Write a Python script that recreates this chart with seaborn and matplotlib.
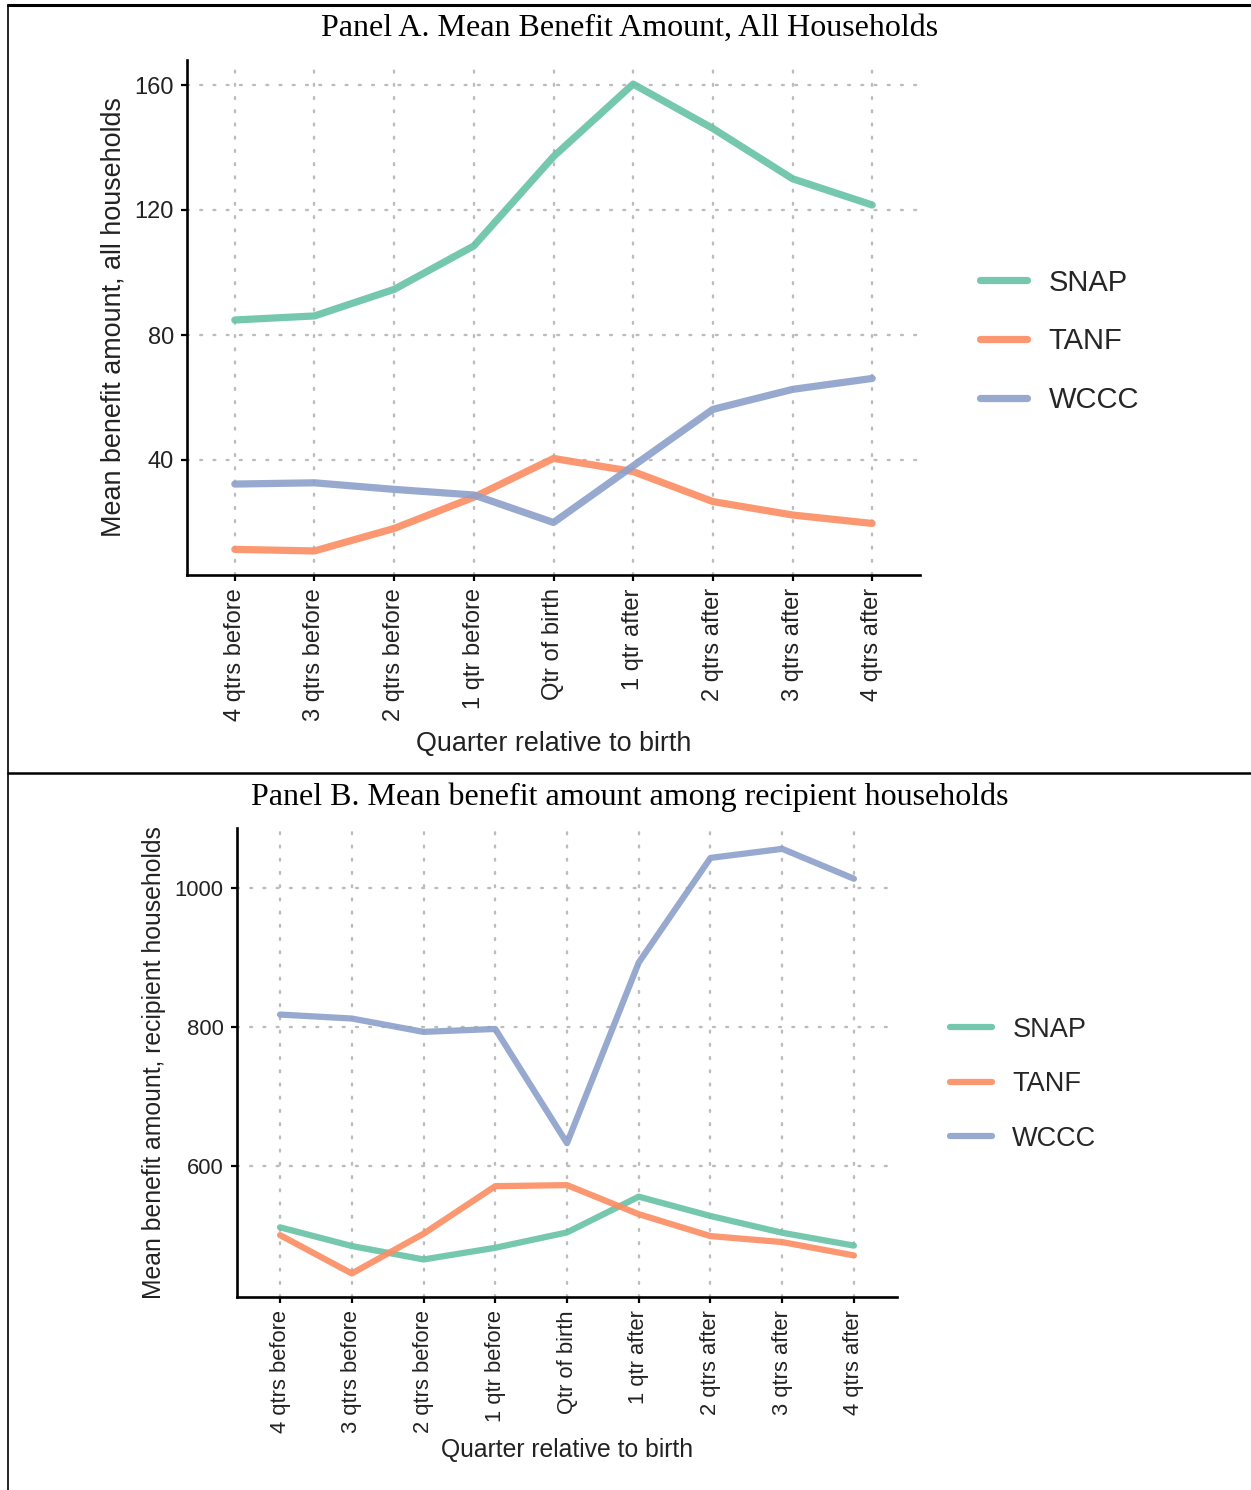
import matplotlib
matplotlib.use("Agg")
import matplotlib.pyplot as plt
from matplotlib.lines import Line2D
import seaborn as sns
import pandas as pd

quarters = ["4 qtrs before", "3 qtrs before", "2 qtrs before", "1 qtr before",
            "Qtr of birth", "1 qtr after", "2 qtrs after", "3 qtrs after", "4 qtrs after"]
programs = ["SNAP", "TANF", "WCCC"]

# Panel A: mean benefit amount, all households
snap_a = [84.8, 86.1, 94.6, 108.5, 137.1, 160.3, 146.1, 130.0, 121.6]
tanf_a = [11.4, 10.9, 18.1, 28.1, 40.5, 36.3, 26.7, 22.4, 19.7]
wccc_a = [32.3, 32.7, 30.6, 28.8, 20.0, 38.1, 56.2, 62.6, 66.1]

# Panel B: mean benefit amount among recipient households
snap_b = [511.7, 484.8, 465.5, 482.3, 504.4, 555.8, 528.0, 503.9, 485.4]
tanf_b = [500.5, 445.3, 502.5, 570.9, 572.4, 530.6, 499.1, 490.5, 471.3]
wccc_b = [817.7, 812.0, 792.8, 797.0, 632.7, 892.5, 1043.0, 1056.0, 1013.0]

yticks_a = [40, 80, 120, 160]
yticks_b = [600, 800, 1000]

title_a = "Panel A. Mean Benefit Amount, All Households"
title_b = "Panel B. Mean benefit amount among recipient households"
ylabel_a = "Mean benefit amount, all households"
ylabel_b = "Mean benefit amount, recipient households"
xlabel = "Quarter relative to birth"

colors = ["#66c2a5", "#fc8d62", "#8da0cb"]


def long_df(s, t, w):
    rows = []
    for prog, vals in zip(programs, [s, t, w]):
        for q, v in zip(quarters, vals):
            rows.append({"quarter": q, "program": prog, "value": v})
    return pd.DataFrame(rows)


sns.set_theme(style="white")
plt.rcParams["font.family"] = ["Liberation Sans", "DejaVu Sans"]

W, H = 1251, 1490
fig = plt.figure(figsize=(W / 100, H / 100), dpi=100)


def px_axes(l, r, t, b):
    return fig.add_axes([l / W, 1 - b / H, (r - l) / W, (b - t) / H])


def style_axes(ax, yticks, ylim, tick_fs, lab_fs, ylab, ylab_x, xlab_y):
    ax.set_xlim(-0.6, 8.6)
    ax.set_ylim(*ylim)
    ax.set_yticks(yticks)
    ax.set_xticks(range(len(quarters)))
    ax.set_xticklabels(quarters, rotation=90, fontsize=tick_fs, color="#222222")
    ax.tick_params(axis="y", labelsize=tick_fs, labelcolor="#222222")
    ax.tick_params(axis="both", direction="out", length=4.5, width=1.6,
                   color="black", pad=5, left=True, bottom=True)
    for side in ["top", "right"]:
        ax.spines[side].set_visible(False)
    for side in ["left", "bottom"]:
        ax.spines[side].set_color("black")
        ax.spines[side].set_linewidth(1.9)
    ax.grid(True, which="major", color="#bcbcbc", linewidth=1.7,
            linestyle=(0, (0.8, 4.8)), dash_capstyle="round")
    ax.set_axisbelow(True)
    ax.set_ylabel(ylab, fontsize=lab_fs, color="#222222")
    ax.set_xlabel(xlabel, fontsize=lab_fs, color="#222222")
    ax.yaxis.set_label_coords(ylab_x, 0.5)
    ax.xaxis.set_label_coords(0.5, xlab_y)


# ---- Panel A ----
axA = px_axes(187, 920, 60, 575)
dfA = long_df(snap_a, tanf_a, wccc_a)
sns.lineplot(data=dfA, x="quarter", y="value", hue="program", palette=colors,
             linewidth=5.2, alpha=0.9, sort=False, ax=axA)
style_axes(axA, yticks_a, (3.2, 168), 17, 19.4, ylabel_a, -0.082, -0.303)
legA = axA.legend(loc="center left", bbox_to_anchor=(1.082, 0.454), frameon=False,
                  fontsize=21, handlelength=1.6, handletextpad=0.75,
                  labelspacing=1.05, borderpad=0, borderaxespad=0)
for h in legA.get_lines():
    h.set_linewidth(5.2)

# ---- Panel B ----
axB = px_axes(237, 897, 828, 1297)
dfB = long_df(snap_b, tanf_b, wccc_b)
sns.lineplot(data=dfB, x="quarter", y="value", hue="program", palette=colors,
             linewidth=4.5, alpha=0.9, sort=False, ax=axB)
style_axes(axB, yticks_b, (411.5, 1086), 15.8, 17.8, ylabel_b, -0.1076, -0.3006)
legB = axB.legend(loc="center left", bbox_to_anchor=(1.080, 0.454), frameon=False,
                  fontsize=19.5, handlelength=1.55, handletextpad=0.76,
                  labelspacing=1.05, borderpad=0, borderaxespad=0)
for h in legB.get_lines():
    h.set_linewidth(4.5)

# ---- Titles and table borders ----
fig.text(630 / W, 1 - 28 / H, title_a, ha="center", va="center", fontsize=23,
         family=["Liberation Serif", "DejaVu Serif"], color="black")
fig.text(630 / W, 1 - 797 / H, title_b, ha="center", va="center", fontsize=23,
         family=["Liberation Serif", "DejaVu Serif"], color="black")

fig.add_artist(Line2D([8 / W, 1], [1 - 5 / H, 1 - 5 / H], color="black", linewidth=2.2))
fig.add_artist(Line2D([8 / W, 1], [1 - 773 / H, 1 - 773 / H], color="black", linewidth=1.8))
fig.add_artist(Line2D([8 / W, 8 / W], [0, 1 - 5 / H], color="black", linewidth=1.2))

fig.savefig("out.png", dpi=100, facecolor="white")
